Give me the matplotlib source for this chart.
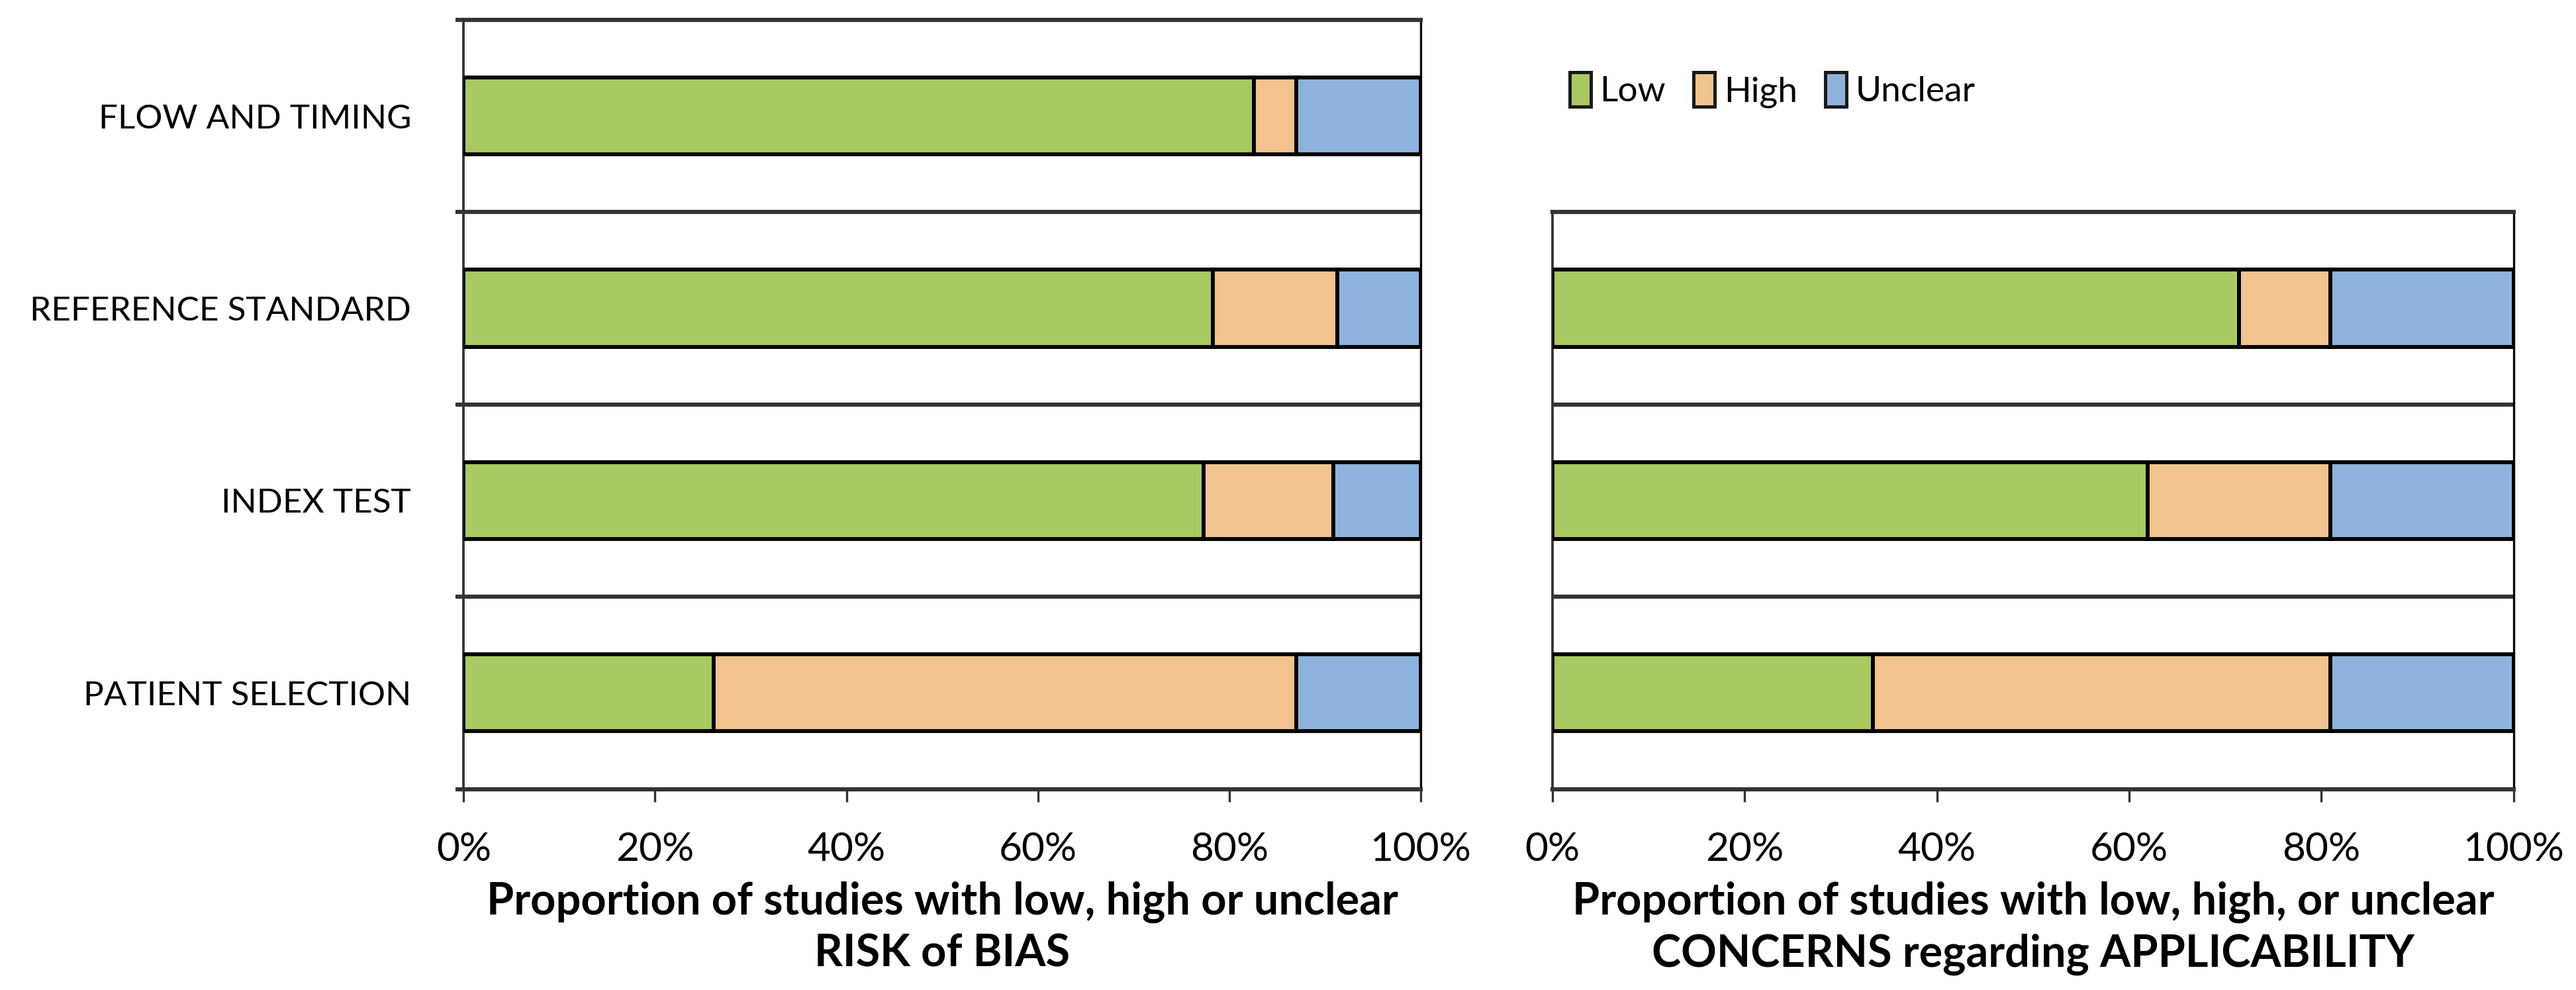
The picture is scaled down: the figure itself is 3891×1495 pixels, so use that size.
import matplotlib
matplotlib.use('Agg')
import matplotlib.pyplot as plt
from matplotlib.patches import Patch
from matplotlib.ticker import FixedLocator, PercentFormatter

plt.rcParams['font.family'] = ['Lato', 'DejaVu Sans']

# risk of bias domains, bottom to top
bias_domains = ['PATIENT SELECTION', 'INDEX TEST', 'REFERENCE STANDARD', 'FLOW AND TIMING']
bias_low = [26.1, 77.3, 78.3, 82.6]
bias_high = [60.9, 13.6, 13.0, 4.4]
bias_unclear = [13.0, 9.1, 8.7, 13.0]

# applicability concerns, bottom to top
appl_domains = ['PATIENT SELECTION', 'INDEX TEST', 'REFERENCE STANDARD']
appl_low = [33.3, 61.9, 71.4]
appl_high = [47.6, 19.0, 9.5]
appl_unclear = [19.1, 19.1, 19.1]

series_names = ['Low', 'High', 'Unclear']
colors = ['#a9c962', '#f1c38e', '#8db3dc']

xticks = [0, 20, 40, 60, 80, 100]
xlabel_bias = 'Proportion of studies with low, high or unclear\nRISK of BIAS'
xlabel_appl = 'Proportion of studies with low, high, or unclear\nCONCERNS regarding APPLICABILITY'

grid_color = '#333333'


def draw_panel(ax, domains, low, high, unclear, xlabel, show_labels):
    ypos = list(range(len(domains)))
    left = [0] * len(domains)
    for vals, col in zip([low, high, unclear], colors):
        ax.barh(ypos, vals, 0.4, left=left, color=col, edgecolor='black', linewidth=1.4, zorder=3)
        left = [a + b for a, b in zip(left, vals)]
    ax.set_xlim(0, 100)
    ax.set_ylim(-0.5, len(domains) - 0.5)
    ax.set_xticks(xticks)
    ax.xaxis.set_major_formatter(PercentFormatter(decimals=0))
    ax.tick_params(axis='x', length=4.5, width=0.8, pad=11, labelsize=14.5, color=grid_color)
    bounds = [i - 0.5 for i in range(len(domains) + 1)]
    ax.yaxis.set_minor_locator(FixedLocator(bounds))
    ax.grid(axis='y', which='minor', color=grid_color, linewidth=1.5, zorder=1)
    ax.set_yticks(ypos)
    if show_labels:
        ax.set_yticklabels(domains, fontsize=12.3)
        ax.tick_params(axis='y', which='minor', length=3, width=1.5, color=grid_color)
    else:
        ax.set_yticklabels([])
        ax.tick_params(axis='y', which='minor', length=0)
    ax.tick_params(axis='y', which='major', length=0, pad=19)
    ax.set_xlabel(xlabel, fontsize=16, fontweight='bold', labelpad=5, linespacing=1.3)
    for s in ['top', 'bottom']:
        ax.spines[s].set_color(grid_color)
        ax.spines[s].set_linewidth(1.5)
    ax.spines['left'].set_color(grid_color)
    ax.spines['left'].set_linewidth(0.9)
    ax.spines['right'].set_color('black')
    ax.spines['right'].set_linewidth(0.8)


fig = plt.figure(figsize=(3891 / 300, 1495 / 300), dpi=300)
ax1 = fig.add_axes([0.180, 0.203, 0.3715, 0.777])
ax2 = fig.add_axes([0.6027, 0.203, 0.3731, 0.777 * 0.75])

draw_panel(ax1, bias_domains, bias_low, bias_high, bias_unclear, xlabel_bias, True)
draw_panel(ax2, appl_domains, appl_low, appl_high, appl_unclear, xlabel_appl, False)

handles = [Patch(facecolor=c, edgecolor='#1a1a1a', linewidth=1.2, label=n) for c, n in zip(colors, series_names)]
fig.legend(handles=handles, loc='center left', bbox_to_anchor=(0.597, 0.909), ncol=3, frameon=False,
           fontsize=12.8, handlelength=0.6, handleheight=1.1, handletextpad=0.25, columnspacing=0.8)

fig.savefig('out.png', dpi=300, facecolor='white')
